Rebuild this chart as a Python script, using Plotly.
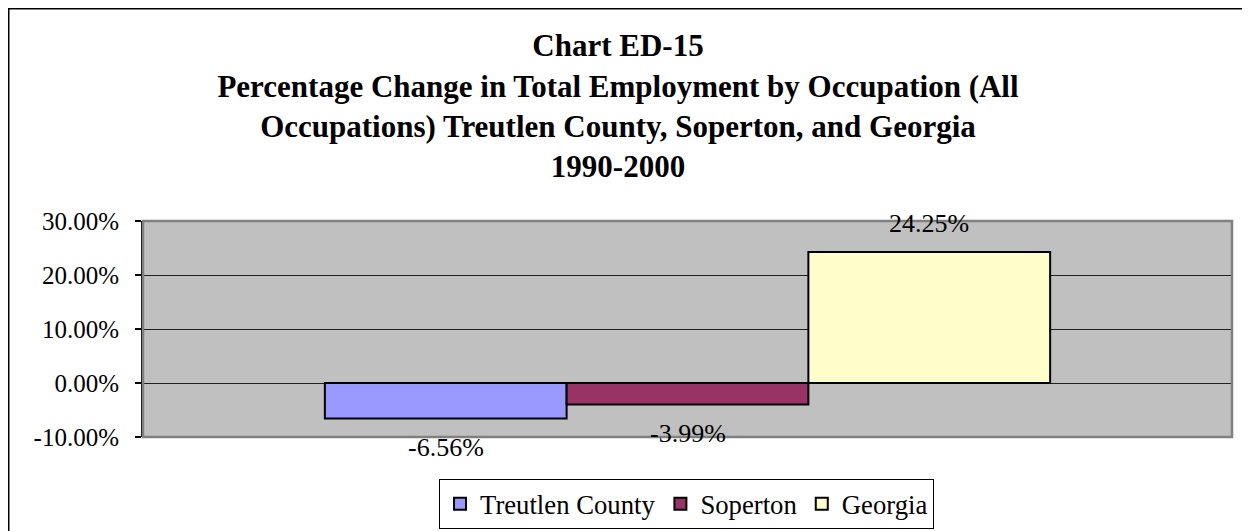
import plotly.graph_objects as go

# ---- data ----
category = ["All Occupations"]
series_names = ["Treutlen County", "Soperton", "Georgia"]
series_values = [-6.56, -3.99, 24.25]
series_colors = ["#9999FF", "#993366", "#FFFFCC"]
label_texts = ["-6.56%", "-3.99%", "24.25%"]
y_ticks = [-10, 0, 10, 20, 30]
y_tick_labels = ["-10.00%", "0.00%", "10.00%", "20.00%", "30.00%"]
title_lines = ["Chart ED-15",
               "Percentage Change in Total Employment by Occupation (All",
               "Occupations) Treutlen County, Soperton, and Georgia",
               "1990-2000"]

FONT = "Liberation Serif, Times New Roman, serif"
W, H = 1250, 531
ML, MR, MT, MB = 135, 26, 213, 102
BARGAP = 0.334

fig = go.Figure()
for name, val, col in zip(series_names, series_values, series_colors):
    fig.add_trace(go.Bar(
        x=category, y=[val], name=name,
        marker=dict(color=col, line=dict(color="black", width=2)),
        hoverinfo="skip",
    ))

# data labels
n = len(series_names)
group_w = 1 - BARGAP
bar_w = group_w / n
for i, (val, txt) in enumerate(zip(series_values, label_texts)):
    xoff = -group_w / 2 + (i + 0.5) * bar_w
    fig.add_annotation(
        x=xoff, y=val, xref="x", yref="y", text=txt, showarrow=False,
        yanchor="middle", yshift=29 if val >= 0 else -29,
        font=dict(family=FONT, size=26, color="black"),
    )

pw = W - ML - MR
ph = H - MT - MB
# outer frame
fig.add_shape(type="rect", xref="paper", yref="paper",
              x0=(0.75 - ML) / pw, x1=(W + 10 - ML) / pw,
              y0=(H - MB - (H + 10)) / ph, y1=(H - MB - 0.75) / ph,
              line=dict(color="black", width=1.5), layer="below")
# plot-area border
fig.add_shape(type="rect", xref="paper", yref="paper", x0=0, x1=1, y0=0, y1=1,
              line=dict(color="#808080", width=2.5), layer="above")

fig.update_layout(
    width=W, height=H,
    margin=dict(l=ML, r=MR, t=MT, b=MB, pad=0, autoexpand=False),
    paper_bgcolor="white", plot_bgcolor="#C0C0C0",
    barmode="group", bargap=BARGAP, bargroupgap=0,
    font=dict(family=FONT, size=25, color="black"),
    title=dict(text="<br>".join(title_lines), x=610 / W, xanchor="center",
               y=1 - 48.3 / H, yanchor="middle", yref="container",
               font=dict(family=FONT, size=31, color="black", weight="bold")),
    showlegend=True,
    legend=dict(orientation="h", x=0.4991, xanchor="center", y=-0.194, yanchor="top",
                yref="paper",
                bordercolor="black", borderwidth=1, bgcolor="white",
                font=dict(family=FONT, size=26.7, color="black"),
                traceorder="normal"),
    xaxis=dict(range=[-0.5, 0.5], showticklabels=False, ticks="",
               showgrid=False, zeroline=False, showline=False, fixedrange=True),
    yaxis=dict(range=[-10, 30], tickvals=y_ticks, ticktext=y_tick_labels,
               ticks="outside", ticklen=6, tickcolor="black", tickwidth=1.5,
               showline=True, linecolor="black", linewidth=2,
               showgrid=True, gridcolor="#202020", gridwidth=1,
               zeroline=True, zerolinecolor="#202020", zerolinewidth=1,
               ticklabelstandoff=11,
               tickfont=dict(family=FONT, size=25, color="black")),
)

fig.write_html("out.html")
